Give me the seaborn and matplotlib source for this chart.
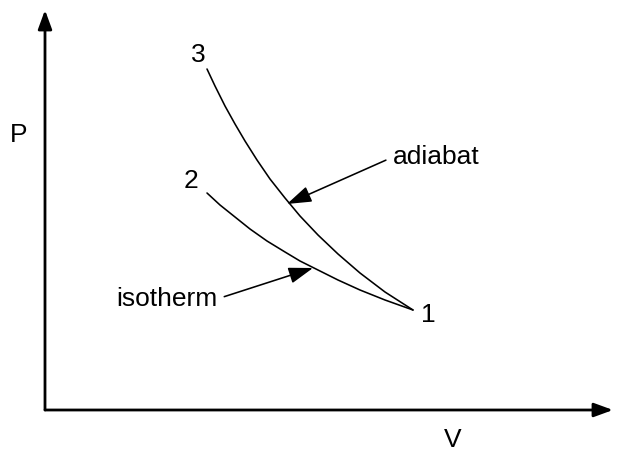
import matplotlib
matplotlib.use("Agg")
import matplotlib.pyplot as plt
import pandas as pd
import seaborn as sns

sns.set_theme(style="white")
plt.rcParams["font.family"] = ["Liberation Sans", "DejaVu Sans"]

# Curves (V to the right, P upward, origin at the axes corner)
adiabat_v = [162, 170, 180, 190, 200, 212, 225, 240, 255, 273, 293, 315, 340, 368]
adiabat_p = [341, 324, 304, 286, 269, 250, 231, 212, 194, 175, 156, 137, 118, 100]
isotherm_v = [162, 175, 190, 205, 222, 240, 255, 273, 293, 315, 340, 368]
isotherm_p = [217, 205, 193, 181, 169, 158, 149, 140, 130, 120, 110, 100]

# Point labels
point_names = ["1", "2", "3"]
point_v = [383, 146, 153]
point_p = [95, 229, 355]

# Annotation labels and where their arrows point
note_text = ["adiabat", "isotherm"]
note_v = [348, 172]
note_p = [253, 111]
tip_v = [242, 268]
tip_p = [206, 142]

FONT = 19
W, H = 617, 451

fig = plt.figure(figsize=(W / 100, H / 100), dpi=100)
ax = fig.add_axes([45 / W, 41 / H, 568 / W, 400 / H])
ax.set_xlim(0, 568)
ax.set_ylim(0, 400)
ax.axis("off")

curves = pd.concat([
    pd.DataFrame({"V": adiabat_v, "P": adiabat_p, "curve": "adiabat"}),
    pd.DataFrame({"V": isotherm_v, "P": isotherm_p, "curve": "isotherm"}),
])
sns.lineplot(data=curves, x="V", y="P", units="curve", estimator=None,
             sort=False, color="black", linewidth=1.15, ax=ax, legend=False)

# axes with arrowheads
axis_arrow = dict(arrowstyle="-|>,head_length=1.15,head_width=0.42",
                  mutation_scale=10, color="black", lw=2.0,
                  shrinkA=0, shrinkB=0)
ax.annotate("", xy=(0, 1), xytext=(0, 0), xycoords="axes fraction",
            arrowprops=axis_arrow, annotation_clip=False)
ax.annotate("", xy=(1, 0), xytext=(0, 0), xycoords="axes fraction",
            arrowprops=axis_arrow, annotation_clip=False)

ax.text(-26, 275, "P", fontsize=FONT, ha="center", va="center", color="black")
ax.text(408, -30, "V", fontsize=FONT, ha="center", va="center", color="black")

for name, v, p in zip(point_names, point_v, point_p):
    ax.text(v, p, name, fontsize=FONT, ha="center", va="center", color="black")

aligns = ["left", "right"]
rel = [(0, 0.5), (1, 0.5)]
for text, v, p, tv, tp, ha, rp in zip(note_text, note_v, note_p, tip_v, tip_p, aligns, rel):
    ax.annotate(text, xy=(tv, tp), xytext=(v, p), fontsize=FONT, color="black",
                ha=ha, va="center",
                arrowprops=dict(arrowstyle="-|>,head_length=1.5,head_width=0.5",
                                mutation_scale=10, color="black", lw=1.15,
                                shrinkA=3, shrinkB=0, relpos=rp))

fig.savefig("out.png", dpi=100)
